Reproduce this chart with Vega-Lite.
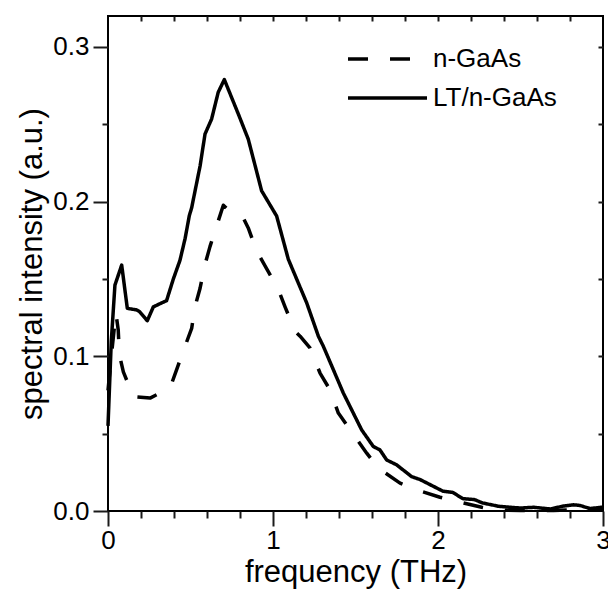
{
  "$schema": "https://vega.github.io/schema/vega-lite/v6.json",
  "width": 495,
  "height": 495,
  "autosize": {"type": "none"},
  "padding": {"left": 108, "top": 16, "right": 5, "bottom": 80},
  "background": "white",
  "config": {
    "view": {"stroke": "black", "strokeWidth": 2},
    "font": "Liberation Sans",
    "axis": {
      "domain": false, "labelColor": "black", "titleColor": "black", "labelFont": "Liberation Sans", "titleFont": "Liberation Sans",
      "labelFontSize": 26, "titleFontSize": 31, "titleFontWeight": "normal", "grid": false,
      "labelOverlap": false, "labelFlush": false
    }
  },
  "data": {"values": [
    {"series": "LT/n-GaAs", "f": 0.0, "s": 0.055},
    {"series": "LT/n-GaAs", "f": 0.02, "s": 0.11},
    {"series": "LT/n-GaAs", "f": 0.042, "s": 0.146},
    {"series": "LT/n-GaAs", "f": 0.083, "s": 0.159},
    {"series": "LT/n-GaAs", "f": 0.117, "s": 0.131},
    {"series": "LT/n-GaAs", "f": 0.174, "s": 0.13},
    {"series": "LT/n-GaAs", "f": 0.19, "s": 0.129},
    {"series": "LT/n-GaAs", "f": 0.238, "s": 0.123},
    {"series": "LT/n-GaAs", "f": 0.275, "s": 0.132},
    {"series": "LT/n-GaAs", "f": 0.355, "s": 0.136},
    {"series": "LT/n-GaAs", "f": 0.396, "s": 0.150},
    {"series": "LT/n-GaAs", "f": 0.436, "s": 0.162},
    {"series": "LT/n-GaAs", "f": 0.467, "s": 0.176},
    {"series": "LT/n-GaAs", "f": 0.493, "s": 0.191},
    {"series": "LT/n-GaAs", "f": 0.507, "s": 0.196},
    {"series": "LT/n-GaAs", "f": 0.558, "s": 0.223},
    {"series": "LT/n-GaAs", "f": 0.588, "s": 0.2437},
    {"series": "LT/n-GaAs", "f": 0.628, "s": 0.2534},
    {"series": "LT/n-GaAs", "f": 0.668, "s": 0.2707},
    {"series": "LT/n-GaAs", "f": 0.705, "s": 0.2789},
    {"series": "LT/n-GaAs", "f": 0.79, "s": 0.2566},
    {"series": "LT/n-GaAs", "f": 0.85, "s": 0.2404},
    {"series": "LT/n-GaAs", "f": 0.931, "s": 0.207},
    {"series": "LT/n-GaAs", "f": 1.022, "s": 0.1907},
    {"series": "LT/n-GaAs", "f": 1.093, "s": 0.1627},
    {"series": "LT/n-GaAs", "f": 1.204, "s": 0.1346},
    {"series": "LT/n-GaAs", "f": 1.275, "s": 0.113},
    {"series": "LT/n-GaAs", "f": 1.305, "s": 0.1065},
    {"series": "LT/n-GaAs", "f": 1.426, "s": 0.0763},
    {"series": "LT/n-GaAs", "f": 1.537, "s": 0.0525},
    {"series": "LT/n-GaAs", "f": 1.608, "s": 0.0417},
    {"series": "LT/n-GaAs", "f": 1.648, "s": 0.0395},
    {"series": "LT/n-GaAs", "f": 1.689, "s": 0.033},
    {"series": "LT/n-GaAs", "f": 1.75, "s": 0.0298},
    {"series": "LT/n-GaAs", "f": 1.84, "s": 0.0222},
    {"series": "LT/n-GaAs", "f": 1.89, "s": 0.0204},
    {"series": "LT/n-GaAs", "f": 2.03, "s": 0.0128},
    {"series": "LT/n-GaAs", "f": 2.09, "s": 0.012},
    {"series": "LT/n-GaAs", "f": 2.15, "s": 0.008},
    {"series": "LT/n-GaAs", "f": 2.22, "s": 0.0074},
    {"series": "LT/n-GaAs", "f": 2.27, "s": 0.0052},
    {"series": "LT/n-GaAs", "f": 2.37, "s": 0.003},
    {"series": "LT/n-GaAs", "f": 2.5, "s": 0.0019},
    {"series": "LT/n-GaAs", "f": 2.58, "s": 0.0024},
    {"series": "LT/n-GaAs", "f": 2.68, "s": 0.0013},
    {"series": "LT/n-GaAs", "f": 2.76, "s": 0.0032},
    {"series": "LT/n-GaAs", "f": 2.82, "s": 0.004},
    {"series": "LT/n-GaAs", "f": 2.86, "s": 0.0036},
    {"series": "LT/n-GaAs", "f": 2.92, "s": 0.0016},
    {"series": "LT/n-GaAs", "f": 3.0, "s": 0.0025},
    {"series": "n-GaAs", "f": 0.0, "s": 0.078},
    {"series": "n-GaAs", "f": 0.02, "s": 0.1},
    {"series": "n-GaAs", "f": 0.048, "s": 0.128},
    {"series": "n-GaAs", "f": 0.062, "s": 0.117},
    {"series": "n-GaAs", "f": 0.069, "s": 0.101},
    {"series": "n-GaAs", "f": 0.093, "s": 0.09},
    {"series": "n-GaAs", "f": 0.153, "s": 0.074},
    {"series": "n-GaAs", "f": 0.255, "s": 0.073},
    {"series": "n-GaAs", "f": 0.376, "s": 0.0795},
    {"series": "n-GaAs", "f": 0.416, "s": 0.0914},
    {"series": "n-GaAs", "f": 0.467, "s": 0.1065},
    {"series": "n-GaAs", "f": 0.507, "s": 0.118},
    {"series": "n-GaAs", "f": 0.527, "s": 0.132},
    {"series": "n-GaAs", "f": 0.558, "s": 0.144},
    {"series": "n-GaAs", "f": 0.588, "s": 0.1594},
    {"series": "n-GaAs", "f": 0.618, "s": 0.1709},
    {"series": "n-GaAs", "f": 0.663, "s": 0.1858},
    {"series": "n-GaAs", "f": 0.699, "s": 0.1977},
    {"series": "n-GaAs", "f": 0.776, "s": 0.1897},
    {"series": "n-GaAs", "f": 0.824, "s": 0.1886},
    {"series": "n-GaAs", "f": 0.85, "s": 0.183},
    {"series": "n-GaAs", "f": 0.901, "s": 0.168},
    {"series": "n-GaAs", "f": 0.962, "s": 0.1566},
    {"series": "n-GaAs", "f": 1.032, "s": 0.1432},
    {"series": "n-GaAs", "f": 1.073, "s": 0.132},
    {"series": "n-GaAs", "f": 1.133, "s": 0.1162},
    {"series": "n-GaAs", "f": 1.164, "s": 0.113},
    {"series": "n-GaAs", "f": 1.224, "s": 0.1054},
    {"series": "n-GaAs", "f": 1.285, "s": 0.0892},
    {"series": "n-GaAs", "f": 1.345, "s": 0.0784},
    {"series": "n-GaAs", "f": 1.396, "s": 0.0633},
    {"series": "n-GaAs", "f": 1.467, "s": 0.0525},
    {"series": "n-GaAs", "f": 1.568, "s": 0.0374},
    {"series": "n-GaAs", "f": 1.638, "s": 0.0277},
    {"series": "n-GaAs", "f": 1.77, "s": 0.018},
    {"series": "n-GaAs", "f": 1.871, "s": 0.0136},
    {"series": "n-GaAs", "f": 2.012, "s": 0.0089},
    {"series": "n-GaAs", "f": 2.123, "s": 0.006},
    {"series": "n-GaAs", "f": 2.265, "s": 0.0024},
    {"series": "n-GaAs", "f": 2.355, "s": 0.0006},
    {"series": "n-GaAs", "f": 2.5, "s": 0.0004},
    {"series": "n-GaAs", "f": 2.7, "s": 0.0004},
    {"series": "n-GaAs", "f": 2.85, "s": 0.001},
    {"series": "n-GaAs", "f": 3.0, "s": 0.0008}
  ]},
  "layer": [
    {
      "mark": {"type": "line", "color": "black", "strokeWidth": 3.5, "strokeCap": "butt", "strokeJoin": "round"},
      "encoding": {
        "x": {
          "field": "f", "type": "quantitative",
          "scale": {"domain": [0, 3], "nice": false, "zero": false},
          "axis": {
            "orient": "bottom",
            "values": [0, 1, 2, 3],
            "format": "d",
            "tickSize": 15, "tickWidth": 2, "tickColor": "#1a1a1a",
            "labelPadding": 1,
            "title": "frequency (THz)",
            "titlePadding": 4
          }
        },
        "y": {
          "field": "s", "type": "quantitative",
          "scale": {"domain": [0, 0.32], "nice": false, "zero": false},
          "axis": {
            "orient": "left",
            "values": [0, 0.1, 0.2, 0.3],
            "format": ".1f",
            "tickSize": 15, "tickWidth": 2, "tickColor": "#1a1a1a",
            "labelPadding": 4,
            "title": "spectral intensity (a.u.)",
            "titlePadding": 4
          }
        },
        "strokeDash": {
          "field": "series", "type": "nominal",
          "scale": {"domain": ["n-GaAs", "LT/n-GaAs"], "range": [[20, 22], [1, 0]]},
          "legend": {
            "orient": "none", "legendX": 238, "legendY": 28,
            "title": null, "symbolType": "stroke", "symbolSize": 6241,
            "symbolStrokeWidth": 3.5, "symbolStrokeColor": "black",
            "labelFontSize": 26, "labelFont": "Liberation Sans", "labelColor": "black",
            "clipHeight": 30, "rowPadding": 9, "labelOffset": 4
          }
        }
      }
    },
    {
      "mark": {"type": "line", "strokeOpacity": 0},
      "encoding": {
        "x": {
          "field": "f", "type": "quantitative",
          "axis": {
            "orient": "bottom",
            "values": [0.2, 0.4, 0.6, 0.8, 1.2, 1.4, 1.6, 1.8, 2.2, 2.4, 2.6, 2.8],
            "labels": false, "tickSize": 7, "tickWidth": 2, "tickColor": "#1a1a1a", "title": null
          }
        },
        "y": {
          "field": "s", "type": "quantitative",
          "axis": {
            "orient": "left",
            "values": [0.05, 0.15, 0.25],
            "labels": false, "tickSize": 6, "tickWidth": 2, "tickColor": "#1a1a1a", "title": null
          }
        },
        "detail": {"field": "series"}
      }
    },
    {
      "mark": {"type": "line", "strokeOpacity": 0},
      "encoding": {
        "x": {
          "field": "f", "type": "quantitative",
          "axis": {
            "orient": "top",
            "values": [0.2, 0.4, 0.6, 0.8, 1, 1.2, 1.4, 1.6, 1.8, 2, 2.2, 2.4, 2.6, 2.8],
            "labels": false, "tickSize": 5, "tickWidth": 2, "tickColor": "#1a1a1a", "offset": -5, "title": null
          }
        },
        "y": {
          "field": "s", "type": "quantitative",
          "axis": {
            "orient": "right",
            "values": [0.05, 0.1, 0.15, 0.2, 0.25, 0.3],
            "labels": false, "tickSize": 5, "tickWidth": 2, "tickColor": "#1a1a1a", "offset": -5, "title": null
          }
        },
        "detail": {"field": "series"}
      }
    }
  ],
  "resolve": {"axis": {"x": "independent", "y": "independent"}}
}
